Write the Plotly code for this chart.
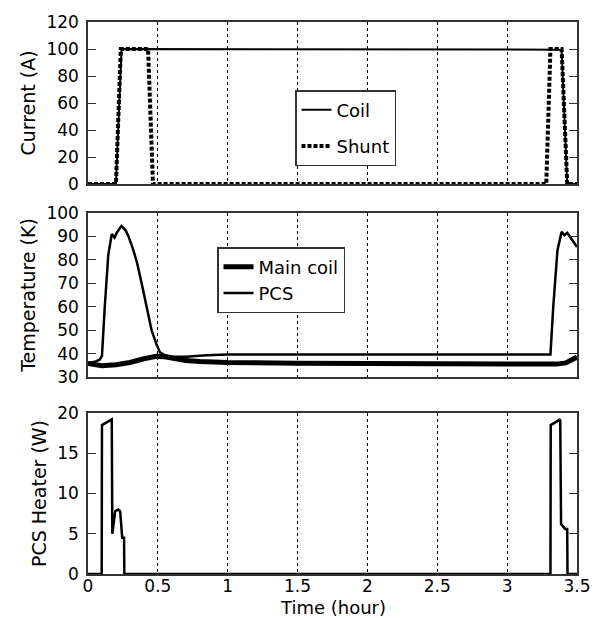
import plotly.graph_objects as go

# ---- data ----
coil_t = [0, 0.2, 0.24, 1.0, 2.0, 3.0, 3.39, 3.43, 3.5]
coil_i = [0, 0, 100, 100, 99.8, 99.5, 99.5, 0, 0]

shunt_t = [0, 0.2, 0.235, 0.43, 0.465, 3.28, 3.31, 3.39, 3.43, 3.5]
shunt_i = [0, 0, 100, 100, 0, 0, 100, 100, 0, 0]

pcs_t = [0, 0.05, 0.085, 0.1, 0.12, 0.145, 0.17, 0.19, 0.21, 0.24, 0.27, 0.29, 0.32,
         0.35, 0.384, 0.42, 0.455, 0.49, 0.515, 0.55, 0.6, 0.7, 0.85, 1.0, 1.5, 2.0,
         2.5, 3.0, 3.31, 3.33, 3.36, 3.39, 3.41, 3.43, 3.46, 3.5]
pcs_temp = [36, 36.5, 37.5, 39, 60, 82, 91, 89.5, 92, 94.5, 92.5, 90, 85,
            79, 70, 60, 50, 44, 40.5, 39.3, 38.8, 38.6, 39.3, 39.6, 39.7, 39.7,
            39.6, 39.6, 39.6, 60, 84, 92, 90.5, 91.5, 89, 85.5]

main_t = [0, 0.05, 0.1, 0.2, 0.3, 0.4, 0.49, 0.55, 0.62, 0.7, 0.8, 1.0, 1.5, 2.0,
          2.5, 3.0, 3.35, 3.42, 3.46, 3.5]
main_temp = [35.8, 35.2, 34.8, 35.2, 36.2, 37.8, 38.8, 38.6, 37.6, 37, 36.6, 36.2,
             35.9, 35.7, 35.5, 35.5, 35.5, 36, 37, 38.5]

heater_t = [0, 0.098, 0.1, 0.17, 0.174, 0.195, 0.215, 0.23, 0.245, 0.258, 0.26,
            3.31, 3.312, 3.38, 3.386, 3.415, 3.43, 3.432, 3.5]
heater_w = [0, 0, 18.5, 19.2, 5, 7.8, 8, 7.8, 4.5, 4.5, 0,
            0, 18.5, 19.2, 6.2, 5.6, 5.6, 0, 0]

x_ticks = [0, 0.5, 1, 1.5, 2, 2.5, 3, 3.5]
x_ticklabels = ["0", "0.5", "1", "1.5", "2", "2.5", "3", "3.5"]
x_title = "Time (hour)"

FONT = "DejaVu Sans"

fig = go.Figure()
fig.add_trace(go.Scatter(x=coil_t, y=coil_i, mode="lines", name="Coil",
                         line=dict(color="black", width=2), xaxis="x", yaxis="y",
                         legend="legend", legendgroup="coil"))
fig.add_trace(go.Scatter(x=shunt_t, y=shunt_i, mode="lines", name="Shunt",
                         line=dict(color="black", width=4, dash="4px,2px"),
                         xaxis="x", yaxis="y", legend="legend", legendgroup="shunt"))
fig.add_trace(go.Scatter(x=main_t, y=main_temp, mode="lines", name="Main coil",
                         line=dict(color="black", width=5), xaxis="x2", yaxis="y2",
                         legend="legend2"))
fig.add_trace(go.Scatter(x=pcs_t, y=pcs_temp, mode="lines", name="PCS",
                         line=dict(color="black", width=2.5), xaxis="x2", yaxis="y2",
                         legend="legend2"))
fig.add_trace(go.Scatter(x=heater_t, y=heater_w, mode="lines", name="Heater",
                         line=dict(color="black", width=2.5), xaxis="x3", yaxis="y3",
                         showlegend=False))

# page is offset by the 8px body margin; figure is sized to compensate
H = 610
top, bot = 14, 44
ph = H - top - bot
def dom(y0, y1):
    # y0, y1 given in page pixels
    return [(574 - y1) / ph, (574 - y0) / ph]

common_x = dict(range=[0, 3.5], tickvals=x_ticks, ticktext=x_ticklabels,
                showgrid=True, gridcolor="black", gridwidth=1, griddash="dot",
                showline=True, linecolor="#333", linewidth=1.5, mirror=True,
                zeroline=False, ticks="", ticklen=0, automargin=False,
                tickfont=dict(size=17, family=FONT, color="black"))
common_y = dict(showgrid=False, showline=True, linecolor="#333", linewidth=1.5,
                mirror="ticks", ticks="inside", ticklen=8, tickcolor="#333",
                zeroline=False, automargin=False,
                tickfont=dict(size=17, family=FONT, color="black"),
                ticklabelstandoff=4)

fig.update_layout(
    width=593, height=610,
    margin=dict(l=80, r=24, t=top, b=bot),
    paper_bgcolor="white", plot_bgcolor="white",
    font=dict(family=FONT, color="black"),
    xaxis=dict(**common_x, anchor="y", showticklabels=False, domain=[0, 1]),
    xaxis2=dict(**common_x, anchor="y2", showticklabels=False, matches="x"),
    xaxis3=dict(**common_x, anchor="y3", showticklabels=True, matches="x",
                ticklabelstandoff=-4),
    yaxis=dict(**common_y, domain=dom(22, 184), range=[0, 120], tickvals=[0, 20, 40, 60, 80, 100, 120],
               title=dict(text="Current (A)", font=dict(size=19, family=FONT), standoff=6)),
    yaxis2=dict(**common_y, domain=dom(213, 377), range=[30, 100],
                tickvals=[30, 40, 50, 60, 70, 80, 90, 100],
                title=dict(text="Temperature (K)", font=dict(size=19, family=FONT), standoff=6)),
    yaxis3=dict(**common_y, domain=dom(413, 574), range=[0, 20], tickvals=[0, 5, 10, 15, 20],
                title=dict(text="PCS Heater (W)", font=dict(size=19, family=FONT), standoff=6)),
    legend=dict(x=(295 - 88) / 489, y=(574 - 90) / ph, xanchor="left", yanchor="top",
                bgcolor="white", bordercolor="#333", borderwidth=1.5, tracegroupgap=10,
                font=dict(size=18, family=FONT)),
    legend2=dict(x=(217 - 88) / 489, y=(574 - 247) / ph, xanchor="left", yanchor="top",
                 bgcolor="white", bordercolor="#333", borderwidth=1.5,
                 font=dict(size=18, family=FONT)),
    annotations=[dict(text=x_title, xref="paper", yref="paper", x=(333 - 88) / 489,
                      y=(574 - 607) / ph, xanchor="center", yanchor="middle",
                      showarrow=False, font=dict(size=18, family=FONT))],
)

fig.write_html("out.html")
